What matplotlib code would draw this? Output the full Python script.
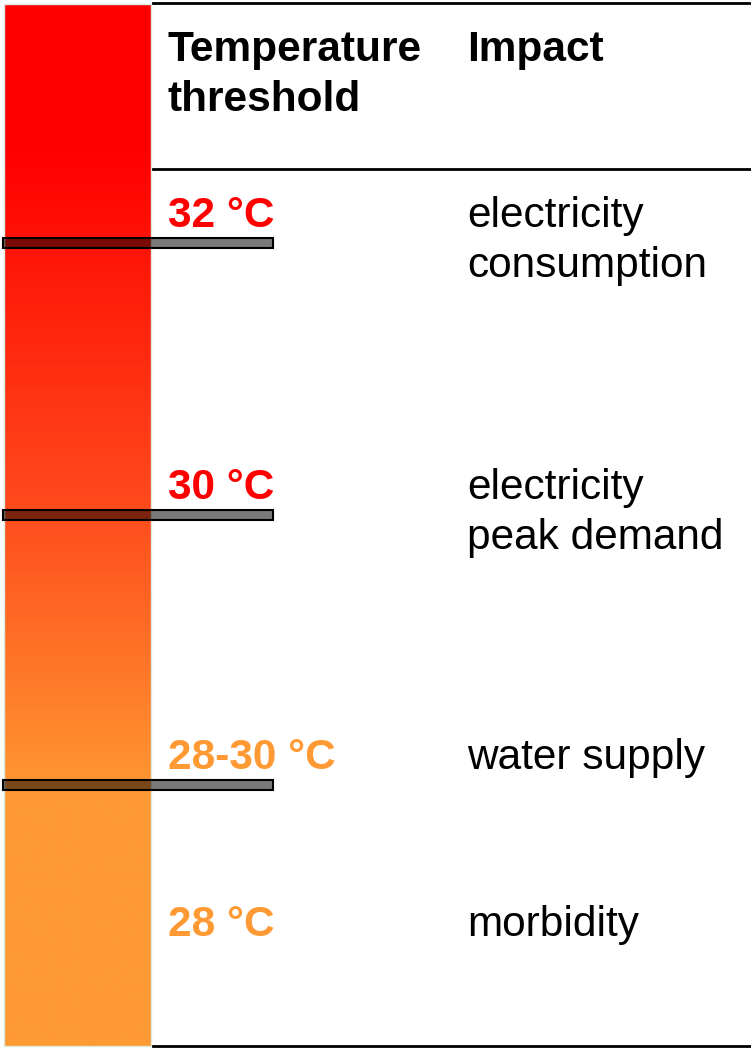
import numpy as np
import matplotlib as mpl
mpl.use('Agg')
import matplotlib.pyplot as plt
from matplotlib.colors import LinearSegmentedColormap
from matplotlib import patches

mpl.rc('font', family=['Liberation Sans', 'DejaVu Sans'])

# --- table content ---
headers = ['Temperature\nthreshold', 'Impact']
thresholds = ['32 °C', '30 °C', '28-30 °C', '28 °C']
impacts = ['electricity\nconsumption', 'electricity\npeak demand',
           'water supply', 'morbidity']
label_colors = ['#ff0000', '#ff0000', '#ff9933', '#ff9933']
has_marker = [True, True, True, False]

# gradient stops of the thermometer bar (fraction from top, colour)
grad_stops = [(0.0, '#ff0000'), (0.14, '#ff0000'), (0.48, '#ff4a1c'),
              (0.76, '#ff9933'), (1.0, '#ff9933')]

W, H = 751, 1048
fig = plt.figure(figsize=(W / 100, H / 100), dpi=100)
ax = fig.add_axes([0, 0, 1, 1])
ax.set_xlim(0, W)
ax.set_ylim(H, 0)
ax.axis('off')

# thermometer bar
bar_x0, bar_x1, bar_y0, bar_y1 = 4, 151, 4, 1046
cmap = LinearSegmentedColormap.from_list('therm', grad_stops)
grad = np.linspace(0, 1, 512).reshape(-1, 1)
ax.imshow(grad, cmap=cmap, aspect='auto',
          extent=(bar_x0, bar_x1, bar_y1, bar_y0), zorder=1)
ax.add_patch(patches.Rectangle((bar_x0, bar_y0), bar_x1 - bar_x0, bar_y1 - bar_y0,
                               fill=False, edgecolor='#dcebe0', lw=1, zorder=2))

# table rules
col1_x, col2_x = 168, 467
ax.plot([153, W], [3, 3], color='black', lw=2, zorder=3)
ax.plot([153, W], [169, 169], color='black', lw=2, zorder=3)
ax.plot([153, W], [1046, 1046], color='black', lw=2, zorder=3)

line_gap = 50
text_dy = 3  # va='center' sits a little high because of the descender room

def multiline(x, y, s, **kw):
    # each line placed separately so the line pitch matches the slide
    for k, part in enumerate(s.split('\n')):
        ax.text(x, y + k * line_gap + text_dy, part, va='center', ha='left', **kw)

# header
multiline(col1_x, 47, headers[0], fontsize=30.5, fontweight='bold')
multiline(col2_x, 47, headers[1], fontsize=30.5, fontweight='bold')

# rows
row_y = [213, 485, 755, 922]
for i in range(len(thresholds)):
    y = row_y[i]
    multiline(col1_x, y, thresholds[i], fontsize=30.5, fontweight='bold',
              color=label_colors[i])
    multiline(col2_x, y, impacts[i], fontsize=30.5)
    if has_marker[i]:
        ax.add_patch(patches.Rectangle((3, y + 25), 270, 10,
                                       facecolor=(0, 0, 0, 0.52),
                                       edgecolor='black', lw=1.5, zorder=4))

fig.savefig('out.png', dpi=100)
